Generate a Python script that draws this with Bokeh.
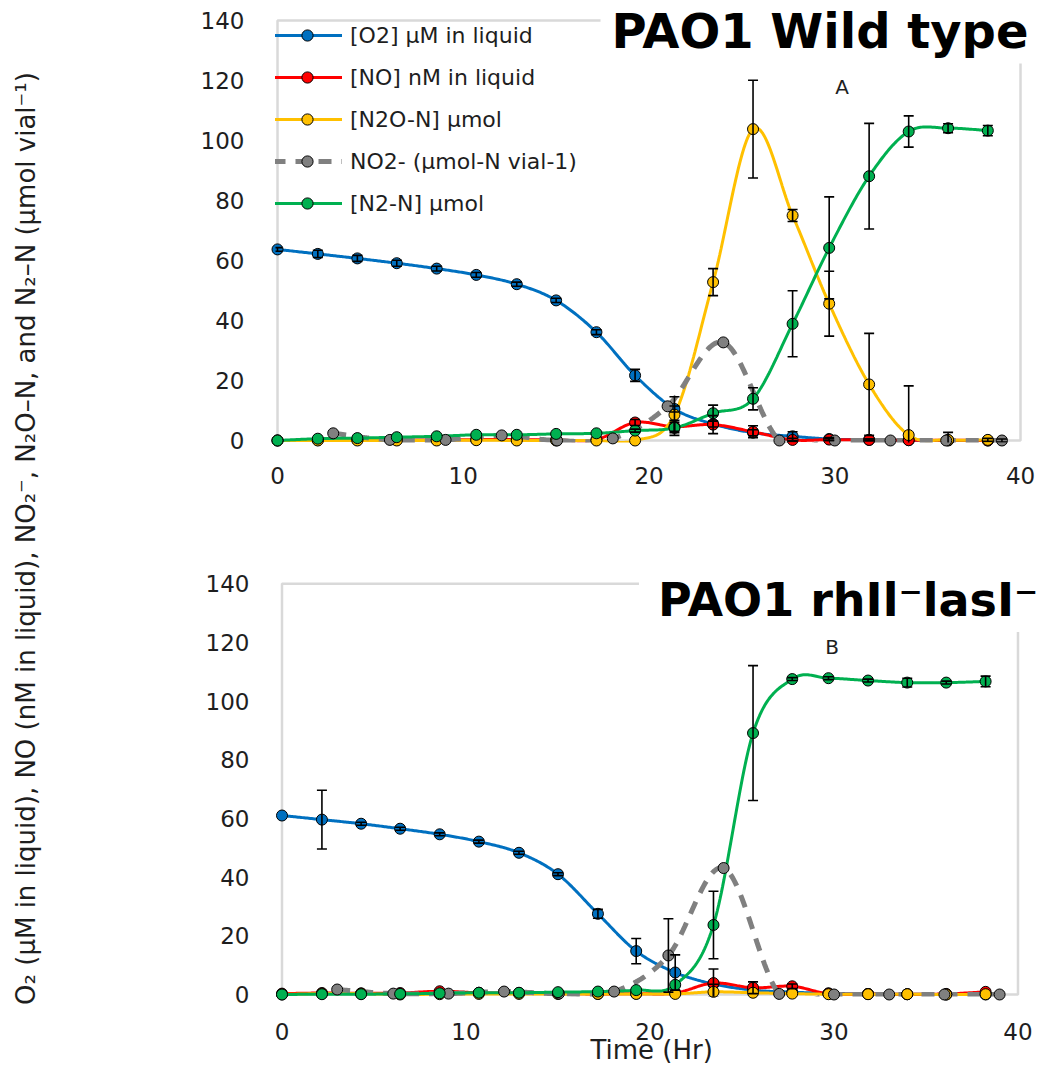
import numpy as np
from bokeh.plotting import figure
from bokeh.models import (ColumnDataSource, Label, Legend, LegendItem, Range1d,
                          FixedTicker, Whisker, TeeHead, BoxAnnotation)
from bokeh.layouts import row, column
from bokeh.embed import file_html
from bokeh.resources import INLINE

# ---------------- data ----------------
times = [0, 2.17, 4.3, 6.42, 8.57, 10.7, 12.88, 15.0, 17.17, 19.25,
         21.37, 23.45, 25.6, 27.73, 29.7, 31.85, 33.98, 36.1, 38.24]
no2_times = [3.0, 6.05, 9.05, 12.07, 15.05, 18.05, 21.0, 24.0, 27.02, 30.0, 33.0, 36.0, 39.0]

# Panel A : PAO1 wild type
o2_A = [63.7, 62.2, 60.7, 59.1, 57.3, 55.2, 52.1, 46.7, 36.1, 21.7, 10.5, 5.5, 2.6, 1.4, 0.5, 0.2, 0.1, 0.0, 0.0]
o2_A_err = [0.6, 1.2, 1.0, 1.0, 0.8, 0.8, 0.7, 0.7, 0.8, 2.0, 1.0, 1.0, 1.0, 1.5, 0.5, 0.3, 0, 0, 0]
no_A = [0.0, 0.1, 0.2, 0.2, 0.2, 0.3, 0.3, 0.2, 0.3, 6.0, 4.6, 5.3, 2.9, 0.2, 0.3, 0.2, 0.1, 0.1, 0.0]
no_A_err = [0, 0, 0, 0, 0, 0, 0, 0, 0, 1.0, 1.5, 3.0, 2.0, 0.5, 0.3, 0.3, 0, 0, 0]
n2o_A = [0.0, 0.0, 0.0, 0.0, 0.0, 0.1, 0.0, 0.0, 0.0, 0.0, 8.6, 52.8, 103.8, 75.0, 45.6, 18.7, 1.8, 0.2, 0.2]
n2o_A_err = [0, 0, 0, 0, 0, 0, 0, 0, 0, 0, 6.0, 4.5, 16.3, 2.0, 10.8, 17.0, 16.4, 2.5, 0.5]
no2_A = [2.4, 0.2, 0.2, 1.7, 0.0, 0.7, 11.4, 32.7, 0.0, 0.0, 0.0, 0.0, 0.0]
no2_A_err = [0, 0, 0, 0, 0, 0, 0, 0, 0, 0, 0, 0, 0.5]
n2_A = [0.0, 0.6, 0.8, 1.1, 1.4, 1.9, 1.9, 2.2, 2.4, 3.3, 4.2, 9.1, 13.9, 38.9, 64.2, 88.1, 103.0, 104.1, 103.3]
n2_A_err = [0, 0, 0, 0, 0, 0, 0, 0, 0, 0.5, 2.5, 2.7, 3.7, 11.0, 17.0, 17.6, 5.2, 1.5, 1.7]

# Panel B : PAO1 rhlI- lasI-
o2_B = [61.0, 59.6, 58.2, 56.5, 54.6, 52.1, 48.3, 41.0, 27.5, 14.8, 7.5, 3.6, 1.5, 0.8, 0.4, 0.2, 0.1, 0.0, 0.0]
o2_B_err = [0, 10.0, 0.5, 0.5, 0.5, 0.5, 0.5, 0.5, 1.5, 4.3, 6.0, 0, 0, 0, 0, 0, 0, 0, 0]
no_B = [0.3, 0.5, 0.4, 0.5, 1.1, 0.6, 0.5, 0.3, 0.2, 0.3, 0.5, 3.9, 2.3, 2.8, 0.3, 0.2, 0.1, 0.2, 0.9]
no_B_err = [0, 0, 0, 0, 0, 0, 0, 0, 0, 0, 0, 4.8, 2.0, 0.8, 0, 0, 0, 0, 0]
n2o_B = [0.0, 0.3, 0.3, 0.0, 0.1, 0.2, 0.2, 0.2, 0.2, 0.2, 0.2, 0.9, 0.6, 0.3, 0.1, 0.1, 0.1, 0.0, 0.1]
n2o_B_err = [0, 0, 0, 0, 0, 0, 0, 0, 0, 0, 0, 2.6, 0, 0, 0, 0, 0, 0, 0]
no2_B = [1.7, 0.3, 0.3, 1.0, 0.3, 1.0, 13.3, 43.1, 0.2, 0.0, 0.0, 0.0, 0.0]
no2_B_err = [0, 0, 0, 0, 0, 0, 12.5, 0, 0, 0, 0, 0, 0]
n2_B = [0.0, 0.1, 0.1, 0.2, 0.4, 0.6, 0.6, 0.8, 1.0, 1.5, 3.3, 23.7, 89.1, 107.5, 107.8, 107.0, 106.3, 106.3, 106.7]
n2_B_err = [0, 0, 0, 0, 0, 0, 0, 0, 0, 0, 0, 11.5, 23.0, 0.5, 0.5, 0.5, 1.5, 0.5, 1.8]

labels = ["[O2] µM in liquid", "[NO] nM in liquid", "[N2O-N] µmol",
          "NO2- (µmol-N vial-1)", "[N2-N] µmol"]
colors = ["#0070C0", "#FF0000", "#FFC000", "#808080", "#00B050"]
x_ticks = [0, 10, 20, 30, 40]
y_ticks = [0, 20, 40, 60, 80, 100, 120, 140]

FONT = "DejaVu Sans"
AX_COLOR = "#808080"
TXT = "#1e1e1e"


def smooth(x, y, n=30):
    """Excel-like smoothed line (Catmull-Rom Bezier through the points)."""
    P = np.column_stack([np.asarray(x, float), np.asarray(y, float)])
    ext = np.vstack([P[0], P, P[-1]])
    out = []
    m = len(P) - 1
    for i in range(m):
        p0, p1, p2, p3 = ext[i], ext[i + 1], ext[i + 2], ext[i + 3]
        c1 = p1 + (p2 - p0) / 6.0
        c2 = p2 - (p3 - p1) / 6.0
        t = np.linspace(0, 1, n, endpoint=(i == m - 1))[:, None]
        out.append((1 - t) ** 3 * p1 + 3 * (1 - t) ** 2 * t * c1 + 3 * (1 - t) * t ** 2 * c2 + t ** 3 * p2)
    s = np.vstack(out)
    return s[:, 0], s[:, 1]


def make_fig(h, bottom, xr, yr, xstand, ystand):
    p = figure(width=1002, height=h, x_range=Range1d(*xr), y_range=Range1d(*yr),
               output_backend="svg", toolbar_location=None,
               min_border_left=225, min_border_right=0, min_border_top=0, min_border_bottom=bottom)
    p.outline_line_color = None
    p.xgrid.visible = False
    p.ygrid.visible = False
    p.xaxis.ticker = FixedTicker(ticks=x_ticks)
    p.yaxis.ticker = FixedTicker(ticks=y_ticks)
    for ax, st in ((p.xaxis[0], xstand), (p.yaxis[0], ystand)):
        ax.axis_line_color = None
        ax.major_tick_line_color = None
        ax.minor_tick_line_color = None
        ax.major_label_text_font = FONT
        ax.major_label_text_font_size = "23px"
        ax.major_label_text_color = TXT
        ax.major_label_standoff = st
    # plot-area border (0..40 x 0..140)
    p.add_layout(BoxAnnotation(left=0, right=40, bottom=0, top=140, fill_color=None,
                               line_color=AX_COLOR, line_width=2.5, level="underlay"))
    return p


def add_series(p, x, y, err, color, dash, width):
    xs, ys = smooth(x, y)
    lr = p.line(xs, ys, line_color=color, line_width=width, line_dash=dash)
    ex = [a for a, e in zip(x, err) if e > 0]
    ey = [b for b, e in zip(y, err) if e > 0]
    ee = [e for e in err if e > 0]
    if ex:
        src = ColumnDataSource(dict(base=ex, lower=[b - e for b, e in zip(ey, ee)],
                                    upper=[b + e for b, e in zip(ey, ee)]))
        w = Whisker(source=src, base="base", lower="lower", upper="upper",
                    line_color="black", line_width=1.6, level="overlay",
                    upper_head=TeeHead(size=10, line_color="black", line_width=1.6),
                    lower_head=TeeHead(size=10, line_color="black", line_width=1.6))
        p.add_layout(w)
    sr = p.scatter(x, y, size=11, fill_color=color, line_color="black", line_width=1, level="overlay")
    return lr, sr


def panel(p, data):
    items = []
    for i, (x, y, err) in enumerate(data):
        dash = "13 10" if i == 3 else "solid"
        width = 5 if i == 3 else 3
        lr, sr = add_series(p, x, y, err, colors[i], dash, width)
        items.append(LegendItem(label=labels[i], renderers=[lr, sr]))
    return items


# ---------------- panel A ----------------
pA = make_fig(530, 88, (-0.108, 41.722), (-0.667, 146.67), 18, 25)
itemsA = panel(pA, [(times, o2_A, o2_A_err), (times, no_A, no_A_err), (times, n2o_A, n2o_A_err),
                    (no2_times, no2_A, no2_A_err), (times, n2_A, n2_A_err)])
legend = Legend(items=itemsA, location=(-3, 225), margin=0, padding=0, spacing=14,
                glyph_width=70, glyph_height=28, label_height=20, label_standoff=8,
                label_text_font=FONT, label_text_font_size="22px", label_text_color=TXT,
                background_fill_alpha=0, border_line_color=None)
pA.add_layout(legend)
pA.add_layout(Label(x=17.39, y=136.7, text="PAO1 Wild type", text_font=FONT, text_font_style="bold",
                    text_font_size="48px", text_color="black", text_baseline="alphabetic",
                    background_fill_color="white", padding=dict(left=11, right=20, top=6, bottom=4)))
pA.add_layout(Label(x=30.4, y=117.7, text="A", text_font=FONT, text_font_size="20px", text_color=TXT,
                    text_align="center", text_baseline="middle"))

# ---------------- panel B ----------------
pB = make_fig(539, 73, (-0.353, 41.875), (-0.682, 158.14), 20, 20)
panel(pB, [(times, o2_B, o2_B_err), (times, no_B, no_B_err), (times, n2o_B, n2o_B_err),
           (no2_times, no2_B, no2_B_err), (times, n2_B, n2_B_err)])
pB.add_layout(Label(x=19.4, y=134.6, text="PAO1 rhIl\u207blasI\u207b", text_font=FONT,
                    text_font_style="bold", text_font_size="46px", text_color="black",
                    text_baseline="alphabetic", background_fill_color="white",
                    padding=dict(left=19, right=20, top=6, bottom=5)))
pB.add_layout(Label(x=29.9, y=118.3, text="B", text_font=FONT, text_font_size="20px", text_color=TXT,
                    text_align="center", text_baseline="middle"))
pB.xaxis.axis_label = "Time (Hr)\u00a0\u00a0\u00a0"
pB.xaxis.axis_label_text_font = FONT
pB.xaxis.axis_label_text_font_size = "26px"
pB.xaxis.axis_label_text_font_style = "normal"
pB.xaxis.axis_label_text_color = TXT
pB.xaxis.axis_label_standoff = -8

# ---------------- shared y label ----------------
pY = figure(width=50, height=1069, x_range=Range1d(0, 1), y_range=Range1d(0, 1),
            output_backend="svg", toolbar_location=None, min_border=0)
pY.axis.visible = False
pY.grid.visible = False
pY.outline_line_color = None
pY.add_layout(Label(x=0.5, y=0.4967, angle=np.pi / 2,
                    text="O\u2082 (µM in liquid), NO (nM in liquid), NO\u2082\u207b, N\u2082O\u2013N, and N\u2082\u2013N (µmol vial\u207b\u00b9)",
                    text_font=FONT, text_font_size="26px", text_color=TXT,
                    text_align="center", text_baseline="middle"))

layout = row(pY, column(pA, pB))
open("out.html", "w").write(file_html(layout, INLINE))
